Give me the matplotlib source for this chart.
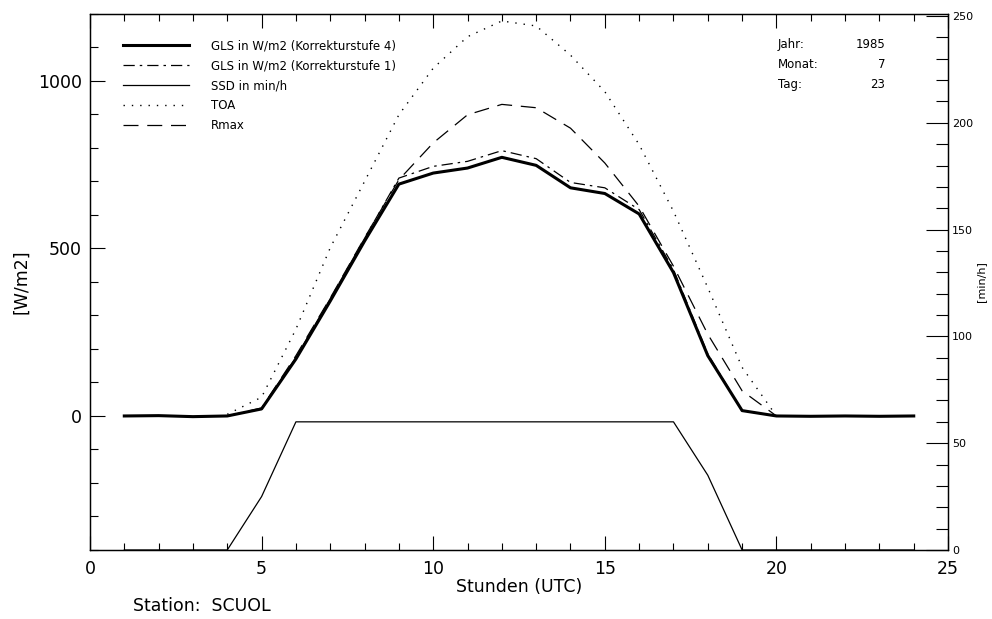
import matplotlib
matplotlib.use("Agg")
import matplotlib.pyplot as plt
from matplotlib.ticker import MultipleLocator

plt.rcParams['font.family'] = 'DejaVu Sans'

hours = list(range(1, 25))
gls4 = [0, 1, -2, 0, 21, 170, 343, 522, 692, 725, 740, 772,
        748, 681, 664, 603, 428, 180, 16, 0, -1, 0, -1, 0]
gls1 = [0, 1, -2, 0, 22, 175, 350, 530, 710, 745, 760, 792,
        768, 697, 681, 616, 437, 185, 16, 0, -1, 0, -1, 0]
toa_h = [4, 5, 6, 7, 8, 9, 10, 11, 12, 13, 14, 15, 16, 17, 18, 19, 20]
toa = [5, 56, 259, 502, 700, 899, 1038, 1132, 1179, 1164, 1077, 968, 810, 611, 383, 145, 0]
rmax_h = [4, 5, 6, 7, 8, 9, 10, 11, 12, 13, 14, 15, 16, 17, 18, 19, 20]
rmax = [0, 24, 180, 352, 532, 705, 815, 899, 930, 920, 859, 755, 626, 447, 244, 75, 0]
ssd = [0, 0, 0, 0, 25, 60, 60, 60, 60, 60, 60, 60,
       60, 60, 60, 60, 60, 35, 0, 0, 0, 0, 0, 0]

fig = plt.figure(figsize=(9.92, 6.19), dpi=100)
ax = fig.add_axes([0.0907, 0.1115, 0.865, 0.866])
ax2 = ax.twinx()

l1, = ax.plot(hours, gls4, color='black', lw=2.2, label='GLS in W/m2 (Korrekturstufe 4)')
l2, = ax.plot(hours, gls1, color='black', lw=0.9, dashes=(9, 4, 2, 4),
              label='GLS in W/m2 (Korrekturstufe 1)')
l4, = ax.plot(toa_h, toa, color='black', lw=1.0, dashes=(1, 5), label='TOA')
l5, = ax.plot(rmax_h, rmax, color='black', lw=0.9, dashes=(12, 7), label='Rmax')
l3, = ax2.plot(hours, ssd, color='black', lw=0.9, label='SSD in min/h')

ax.set_xlim(0, 25)
ax.set_ylim(-400, 1200)
ax2.set_ylim(0, 251)

ax.xaxis.set_major_locator(MultipleLocator(5))
ax.xaxis.set_minor_locator(MultipleLocator(1))
ax.yaxis.set_major_locator(MultipleLocator(500))
ax.yaxis.set_minor_locator(MultipleLocator(100))
ax2.yaxis.set_major_locator(MultipleLocator(50))
ax2.yaxis.set_minor_locator(MultipleLocator(10))

ax.tick_params(axis='x', which='both', direction='in', top=True, labelsize=12.5, pad=7)
ax.tick_params(axis='x', which='major', length=10, width=0.8)
ax.tick_params(axis='x', which='minor', length=5, width=0.8)
ax.tick_params(axis='y', which='both', direction='in', right=False, labelsize=12.5, pad=6)
ax.tick_params(axis='y', which='major', length=11, width=0.8)
ax.tick_params(axis='y', which='minor', length=6, width=0.8)
ax2.tick_params(axis='y', which='both', direction='in', labelsize=8, pad=3)
ax2.tick_params(axis='y', which='major', length=16, width=0.8)
ax2.tick_params(axis='y', which='minor', length=9, width=0.8)

for a in (ax, ax2):
    for s in a.spines.values():
        s.set_linewidth(0.9)

ax.set_ylabel('[W/m2]', fontsize=12.5, labelpad=5)
ax2.set_ylabel('[min/h]', fontsize=8, labelpad=2)
ax.set_xlabel('Stunden (UTC)', fontsize=12.5, labelpad=0)

fig.text(133 / 992, 1 - 606 / 619, 'Station:  SCUOL', fontsize=12.5, va='center', ha='left')

ax.legend(handles=[l1, l2, l3, l4, l5], loc='upper left', bbox_to_anchor=(0.038, 0.953),
          frameon=False, fontsize=8.5, handlelength=5.6, handletextpad=1.9,
          labelspacing=0.6, borderpad=0, borderaxespad=0)

info_labels = ['Jahr:', 'Monat:', 'Tag:']
info_values = ['1985', '7', '23']
for i, (lab, val) in enumerate(zip(info_labels, info_values)):
    yy = 1 - (45 + 20 * i - 14) / 536
    ax.text((778 - 90) / 858, yy, lab, transform=ax.transAxes, fontsize=8.5, va='center', ha='left')
    ax.text((885 - 90) / 858, yy, val, transform=ax.transAxes, fontsize=8.5, va='center', ha='right')

fig.savefig('out.png', dpi=100)
